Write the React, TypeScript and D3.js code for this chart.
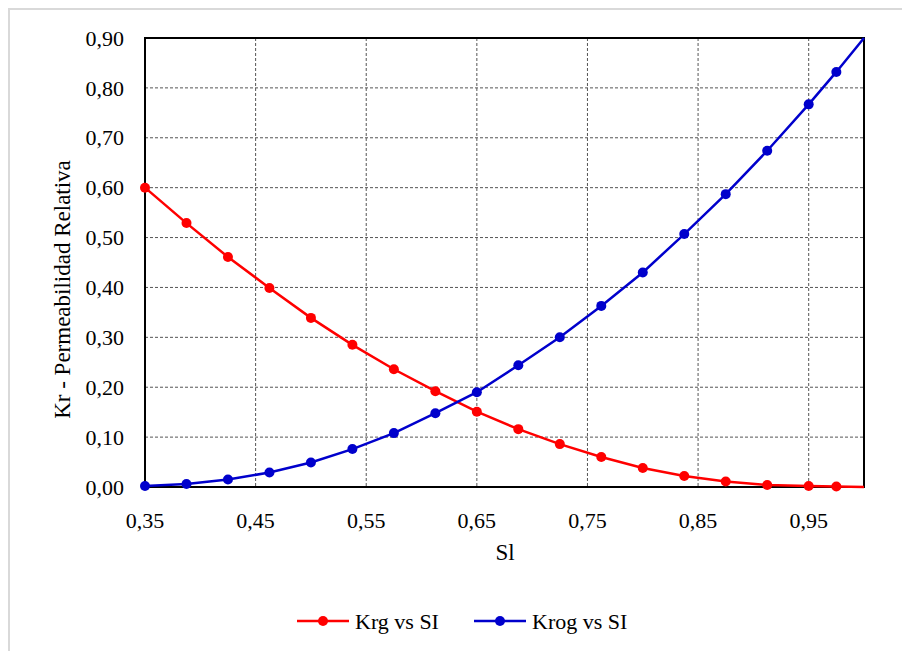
import React, { useEffect, useRef } from "react";
import * as d3 from "d3";

const sl = [0.35, 0.3875, 0.425, 0.4625, 0.5, 0.5375, 0.575, 0.6125, 0.65, 0.6875, 0.725, 0.7625, 0.8, 0.8375, 0.875, 0.9125, 0.95, 0.975, 1.0];
const krg = [0.60, 0.529, 0.461, 0.399, 0.339, 0.285, 0.236, 0.192, 0.151, 0.116, 0.086, 0.060, 0.038, 0.022, 0.011, 0.004, 0.002, 0.001, 0.0];
const krog = [0.002, 0.006, 0.015, 0.029, 0.049, 0.076, 0.108, 0.148, 0.190, 0.244, 0.300, 0.363, 0.430, 0.507, 0.587, 0.674, 0.767, 0.832, 0.90];
const xTicks = [0.35, 0.45, 0.55, 0.65, 0.75, 0.85, 0.95];
const yTicks = [0, 0.1, 0.2, 0.3, 0.4, 0.5, 0.6, 0.7, 0.8, 0.9];
const seriesNames = ["Krg vs SI", "Krog vs SI"];
const colors = ["#ff0000", "#0000cc"];

export default function App() {
  const ref = useRef<SVGSVGElement>(null);
  const W = 902, H = 651;

  useEffect(() => {
    const svg = d3.select(ref.current);
    svg.selectAll("*").remove();
    const left = 145, right = 864, top = 38, bottom = 487;
    const x = d3.scaleLinear().domain([0.35, 1.0]).range([left, right]);
    const y = d3.scaleLinear().domain([0, 0.9]).range([bottom, top]);
    const fmt = (v: number) => v.toFixed(2).replace(".", ",");
    const FONT = "Liberation Serif";

    svg.append("rect").attr("width", W).attr("height", H).attr("fill", "#fff");
    svg.append("rect").attr("x", 9).attr("y", 9).attr("width", W + 20).attr("height", H + 20)
      .attr("fill", "#fff").attr("stroke", "#d9d9d9").attr("stroke-width", 2);

    svg.append("g").selectAll("line").data(xTicks.slice(1)).join("line")
      .attr("x1", (d) => x(d)).attr("x2", (d) => x(d)).attr("y1", top).attr("y2", bottom)
      .attr("stroke", "#555").attr("stroke-width", 1).attr("stroke-dasharray", "3,2");
    svg.append("g").selectAll("line").data(yTicks.slice(1, -1)).join("line")
      .attr("x1", left).attr("x2", right).attr("y1", (d) => y(d)).attr("y2", (d) => y(d))
      .attr("stroke", "#555").attr("stroke-width", 1).attr("stroke-dasharray", "3,2");

    svg.append("rect").attr("x", left).attr("y", top).attr("width", right - left).attr("height", bottom - top)
      .attr("fill", "none").attr("stroke", "#000").attr("stroke-width", 2);

    const txt = (g: any, size: number) => g.attr("font-family", FONT).attr("font-size", size).attr("fill", "#000");

    txt(svg.append("g").selectAll("text").data(yTicks).join("text")
      .attr("x", 124).attr("y", (d: number) => y(d)).attr("dy", "0.35em").attr("text-anchor", "end")
      .text((d: number) => fmt(d)), 22);
    txt(svg.append("g").selectAll("text").data(xTicks).join("text")
      .attr("x", (d: number) => x(d)).attr("y", 528).attr("text-anchor", "middle")
      .text((d: number) => fmt(d)), 22);
    txt(svg.append("text").attr("x", 505).attr("y", 560).attr("text-anchor", "middle").text("Sl"), 23);
    txt(svg.append("text").attr("transform", `translate(70,${(top + bottom) / 2 + 27}) rotate(-90)`)
      .attr("text-anchor", "middle").text("Kr - Permeabilidad Relativa"), 23);

    const line = d3.line<number>().x((_, i) => x(sl[i])).y((d) => y(d));
    [krg, krog].forEach((s, k) => {
      const g = svg.append("g");
      g.append("path").attr("d", line(s) || "").attr("fill", "none").attr("stroke", colors[k]).attr("stroke-width", 2.5);
      g.selectAll("circle").data(s.slice(0, -1)).join("circle")
        .attr("cx", (_, i) => x(sl[i])).attr("cy", (d) => y(d)).attr("r", 5).attr("fill", colors[k]);
    });

    seriesNames.forEach((n, k) => {
      const lx = k === 0 ? 297 : 474;
      const g = svg.append("g");
      g.append("line").attr("x1", lx).attr("x2", lx + 52).attr("y1", 621).attr("y2", 621)
        .attr("stroke", colors[k]).attr("stroke-width", 2.5);
      g.append("circle").attr("cx", lx + 26).attr("cy", 621).attr("r", 5).attr("fill", colors[k]);
      txt(g.append("text").attr("x", lx + 58).attr("y", 621).attr("dy", "0.35em").text(n), 22);
    });
  }, []);

  return <svg ref={ref} width={W} height={H} style={{ position: "absolute", left: 0, top: 0 }} />;
}
